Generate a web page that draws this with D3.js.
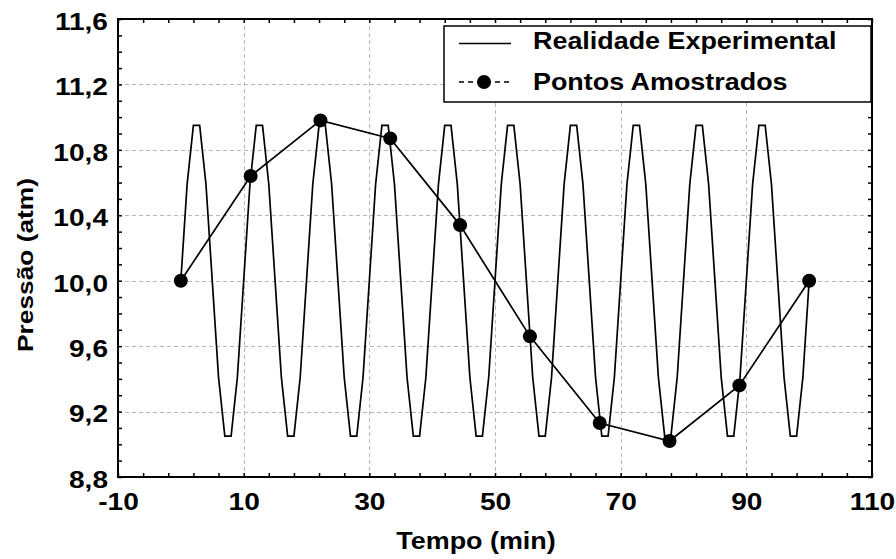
<!DOCTYPE html>
<html>
<head>
<meta charset="utf-8">
<script src="https://cdn.jsdelivr.net/npm/d3@7.9.0/dist/d3.min.js"></script>
<style>
  html, body { margin: 0; padding: 0; background: #fff; }
  svg { display: block; font-family: "Liberation Sans", Arial, sans-serif; font-weight: bold; }
</style>
</head>
<body>
<div id="chart"></div>
<script>
// Tick labels
const xTicks = [-10, 10, 30, 50, 70, 90, 110];
const yTicks = [8.8, 9.2, 9.6, 10.0, 10.4, 10.8, 11.2, 11.6];

// "Realidade Experimental": pressure read every minute, t = 0..100
const waveValues = [
  10.00, 10.59, 10.95, 10.95, 10.59, 10.00, 9.41, 9.05, 9.05, 9.41,
  10.00, 10.59, 10.95, 10.95, 10.59, 10.00, 9.41, 9.05, 9.05, 9.41,
  10.00, 10.59, 10.95, 10.95, 10.59, 10.00, 9.41, 9.05, 9.05, 9.41,
  10.00, 10.59, 10.95, 10.95, 10.59, 10.00, 9.41, 9.05, 9.05, 9.41,
  10.00, 10.59, 10.95, 10.95, 10.59, 10.00, 9.41, 9.05, 9.05, 9.41,
  10.00, 10.59, 10.95, 10.95, 10.59, 10.00, 9.41, 9.05, 9.05, 9.41,
  10.00, 10.59, 10.95, 10.95, 10.59, 10.00, 9.41, 9.05, 9.05, 9.41,
  10.00, 10.59, 10.95, 10.95, 10.59, 10.00, 9.41, 9.05, 9.05, 9.41,
  10.00, 10.59, 10.95, 10.95, 10.59, 10.00, 9.41, 9.05, 9.05, 9.41,
  10.00, 10.59, 10.95, 10.95, 10.59, 10.00, 9.41, 9.05, 9.05, 9.41,
  10.00
];
const waveStep = 1; // min between readings

// "Pontos Amostrados"
const sampleTimes = [0, 11.11, 22.22, 33.33, 44.44, 55.56, 66.67, 77.78, 88.89, 100];
const sampleValues = [10.00, 10.64, 10.98, 10.87, 10.34, 9.66, 9.13, 9.02, 9.36, 10.00];

const legendLabels = ['Realidade Experimental', 'Pontos Amostrados'];
const xTitle = 'Tempo (min)';
const yTitle = 'Pressão (atm)';

const width = 896;
const height = 559;
const margin = { top: 19, right: 24, bottom: 82, left: 118 };
const stretch = 1.17; // the chart's bold font is a bit wider than Liberation

const plot = {
  left: margin.left,
  right: width - margin.right,
  top: margin.top,
  bottom: height - margin.bottom,
};

const svg = d3.select('#chart')
  .append('svg')
  .attr('width', width)
  .attr('height', height);

const xScale = d3.scaleLinear().domain([-10, 110]).range([plot.left, plot.right]);
const yScale = d3.scaleLinear().domain([8.8, 11.6]).range([plot.bottom, plot.top]);

const fmt = (d) => d.toFixed(1).replace('.', ',');

// gridlines (dashed, grey) - not on the frame itself
const grid = svg.append('g').attr('class', 'grid')
  .attr('stroke', '#b8b8b8').attr('stroke-width', 1).attr('stroke-dasharray', '4,3');

grid.selectAll('line.gx')
  .data(xTicks.slice(1, -1))
  .join('line')
  .attr('x1', (d) => Math.round(xScale(d)) + 0.5)
  .attr('x2', (d) => Math.round(xScale(d)) + 0.5)
  .attr('y1', plot.top)
  .attr('y2', plot.bottom);

grid.selectAll('line.gy')
  .data(yTicks.slice(1, -1))
  .join('line')
  .attr('y1', (d) => Math.round(yScale(d)) + 0.5)
  .attr('y2', (d) => Math.round(yScale(d)) + 0.5)
  .attr('x1', plot.left)
  .attr('x2', plot.right);

// experimental wave
const line = d3.line()
  .x((d, i) => xScale(i * waveStep))
  .y((d) => yScale(d));

svg.append('path')
  .datum(waveValues)
  .attr('d', line)
  .attr('fill', 'none')
  .attr('stroke', '#000')
  .attr('stroke-width', 1.7)
  .attr('stroke-linejoin', 'miter');

// sampled points
const samples = sampleTimes.map((t, i) => ({ t, v: sampleValues[i] }));

svg.append('path')
  .datum(samples)
  .attr('d', d3.line().x((d) => xScale(d.t)).y((d) => yScale(d.v)))
  .attr('fill', 'none')
  .attr('stroke', '#000')
  .attr('stroke-width', 1.7);

svg.append('g')
  .selectAll('circle')
  .data(samples)
  .join('circle')
  .attr('cx', (d) => xScale(d.t))
  .attr('cy', (d) => yScale(d.v))
  .attr('r', 7)
  .attr('fill', '#000');

// minor ticks on all four sides (pointing inwards)
const xMinor = d3.range(-10, 111, 4);
const yMinor = d3.range(88, 117, 1).map((d) => d / 10);

function tickAxis(axis, translate) {
  const g = svg.append('g')
    .attr('transform', translate)
    .call(axis);
  g.select('.domain').remove();
  g.selectAll('.tick line').attr('stroke', '#000').attr('stroke-width', 1.5);
  return g;
}

tickAxis(d3.axisBottom(xScale).tickValues(xMinor).tickSize(-4).tickFormat(''), `translate(0,${plot.bottom})`);
tickAxis(d3.axisTop(xScale).tickValues(xMinor).tickSize(-4).tickFormat(''), `translate(0,${plot.top})`);
tickAxis(d3.axisLeft(yScale).tickValues(yMinor).tickSize(-4).tickFormat(''), `translate(${plot.left},0)`);
tickAxis(d3.axisRight(yScale).tickValues(yMinor).tickSize(-4).tickFormat(''), `translate(${plot.right},0)`);

// tick labels
const xLab = svg.append('g')
  .attr('transform', `translate(0,${plot.bottom})`)
  .call(d3.axisBottom(xScale).tickValues(xTicks).tickSize(0).tickFormat((d) => String(d)));
xLab.select('.domain').remove();
xLab.selectAll('text')
  .attr('y', 33)
  .attr('dy', 0)
  .attr('transform', `scale(${stretch},1)`)
  .attr('fill', '#000')
  .style('font-size', '24px')
  .style('font-family', '"Liberation Sans", Arial, sans-serif')
  .style('font-weight', 'bold');

const yLab = svg.append('g')
  .attr('transform', `translate(${plot.left},0)`)
  .call(d3.axisLeft(yScale).tickValues(yTicks).tickSize(0).tickFormat(fmt));
yLab.select('.domain').remove();
yLab.selectAll('text')
  .attr('x', 0)
  .attr('dy', '0.43em')
  .attr('transform', `translate(-10,0) scale(${stretch},1)`)
  .attr('fill', '#000')
  .style('font-size', '24px')
  .style('font-family', '"Liberation Sans", Arial, sans-serif')
  .style('font-weight', 'bold');

// frame
svg.append('rect')
  .attr('x', plot.left)
  .attr('y', plot.top)
  .attr('width', plot.right - plot.left)
  .attr('height', plot.bottom - plot.top)
  .attr('fill', 'none')
  .attr('stroke', '#000')
  .attr('stroke-width', 2);

// axis titles
svg.append('text')
  .attr('transform', `translate(476,549) scale(${stretch},1)`)
  .attr('text-anchor', 'middle')
  .style('font-size', '23px')
  .text(xTitle);

svg.append('text')
  .attr('transform', `translate(33,265) rotate(-90) scale(${stretch},1)`)
  .attr('text-anchor', 'middle')
  .style('font-size', '22.5px')
  .text(yTitle);

// legend
const legend = svg.append('g').attr('class', 'legend');

legend.append('rect')
  .attr('x', 444)
  .attr('y', 26)
  .attr('width', 427)
  .attr('height', 76)
  .attr('fill', '#fff')
  .attr('stroke', '#000')
  .attr('stroke-width', 1.5);

legend.append('line')
  .attr('x1', 459).attr('x2', 511)
  .attr('y1', 43.5).attr('y2', 43.5)
  .attr('stroke', '#000').attr('stroke-width', 1.5);

legend.append('line')
  .attr('x1', 459).attr('x2', 511)
  .attr('y1', 82).attr('y2', 82)
  .attr('stroke', '#000').attr('stroke-width', 1.5)
  .attr('stroke-dasharray', '5,4');

legend.append('circle')
  .attr('cx', 484).attr('cy', 82).attr('r', 7).attr('fill', '#000');

legend.selectAll('text.lab')
  .data(legendLabels)
  .join('text')
  .attr('class', 'lab')
  .attr('transform', (d, i) => `translate(533,${i === 0 ? 49 : 90}) scale(${stretch},1)`)
  .style('font-size', '23px')
  .text((d) => d);
</script>
</body>
</html>
